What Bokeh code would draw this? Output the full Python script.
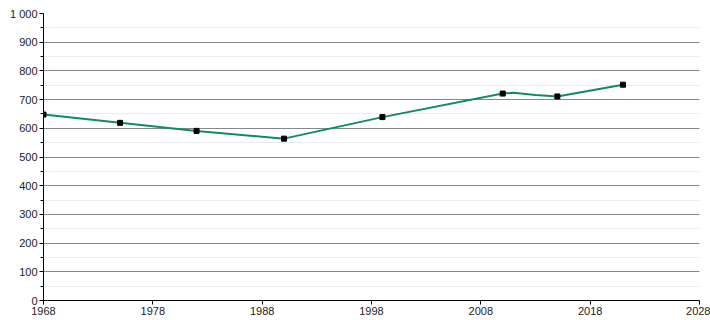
from bokeh.plotting import figure
from bokeh.models import Range1d, FixedTicker, ColumnDataSource
from bokeh.embed import file_html
from bokeh.resources import INLINE

# Data
line_years = [1968, 1975, 1982, 1990, 1999, 2010, 2011, 2013, 2015, 2021]
line_pop = [648, 619, 591, 564, 639, 721, 724, 716, 711, 752]
census_years = [1968, 1975, 1982, 1990, 1999, 2010, 2015, 2021]
census_pop = [648, 619, 591, 564, 639, 721, 711, 752]

y_ticks = [0, 100, 200, 300, 400, 500, 600, 700, 800, 900, 1000]
y_minor = [50, 150, 250, 350, 450, 550, 650, 750, 850, 950]
y_labels = ["0", "100", "200", "300", "400", "500", "600", "700", "800", "900", "1 000"]
x_ticks = [1968, 1978, 1988, 1998, 2008, 2018, 2028]

FONT = "Liberation Sans"

p = figure(width=710, height=320, frame_width=656, frame_height=287,
           output_backend="svg", toolbar_location=None,
           x_range=Range1d(1968, 2028), y_range=Range1d(0, 1000),
           min_border_left=43, min_border_right=11, min_border_top=13,
           min_border_bottom=20)
p.outline_line_color = None
p.background_fill_color = "white"
p.border_fill_color = "white"

p.xgrid.visible = False
p.ygrid.ticker = FixedTicker(ticks=y_ticks, minor_ticks=y_minor)
p.ygrid.grid_line_color = "#888888"
p.ygrid.grid_line_width = 1
p.ygrid.minor_grid_line_color = "#ebebeb"
p.ygrid.minor_grid_line_width = 1

yax = p.yaxis[0]
yax.ticker = FixedTicker(ticks=y_ticks, minor_ticks=y_minor)
yax.major_label_overrides = {t: l for t, l in zip(y_ticks, y_labels)}
yax.axis_line_color = "black"
yax.major_tick_line_color = "black"
yax.minor_tick_line_color = "black"
yax.major_tick_out = 4
yax.major_tick_in = 0
yax.minor_tick_out = 3
yax.minor_tick_in = 0
yax.major_label_text_font = FONT
yax.major_label_text_font_size = "11px"
yax.major_label_text_color = "#222222"
yax.major_label_standoff = 2

xax = p.xaxis[0]
xax.ticker = FixedTicker(ticks=x_ticks)
xax.axis_line_color = "black"
xax.major_tick_line_color = "black"
xax.minor_tick_line_color = None
xax.major_tick_out = 4
xax.major_tick_in = 0
xax.major_label_text_font = FONT
xax.major_label_text_font_size = "11px"
xax.major_label_text_color = "#222222"
xax.major_label_standoff = 2

line_src = ColumnDataSource(dict(x=line_years, y=line_pop))
pt_src = ColumnDataSource(dict(x=census_years, y=census_pop))
p.line("x", "y", source=line_src, line_color="#0f8a6b", line_width=2)
p.scatter("x", "y", source=pt_src, marker="square", size=5,
          fill_color="black", line_color="black")

open("out.html", "w").write(file_html(p, INLINE))
